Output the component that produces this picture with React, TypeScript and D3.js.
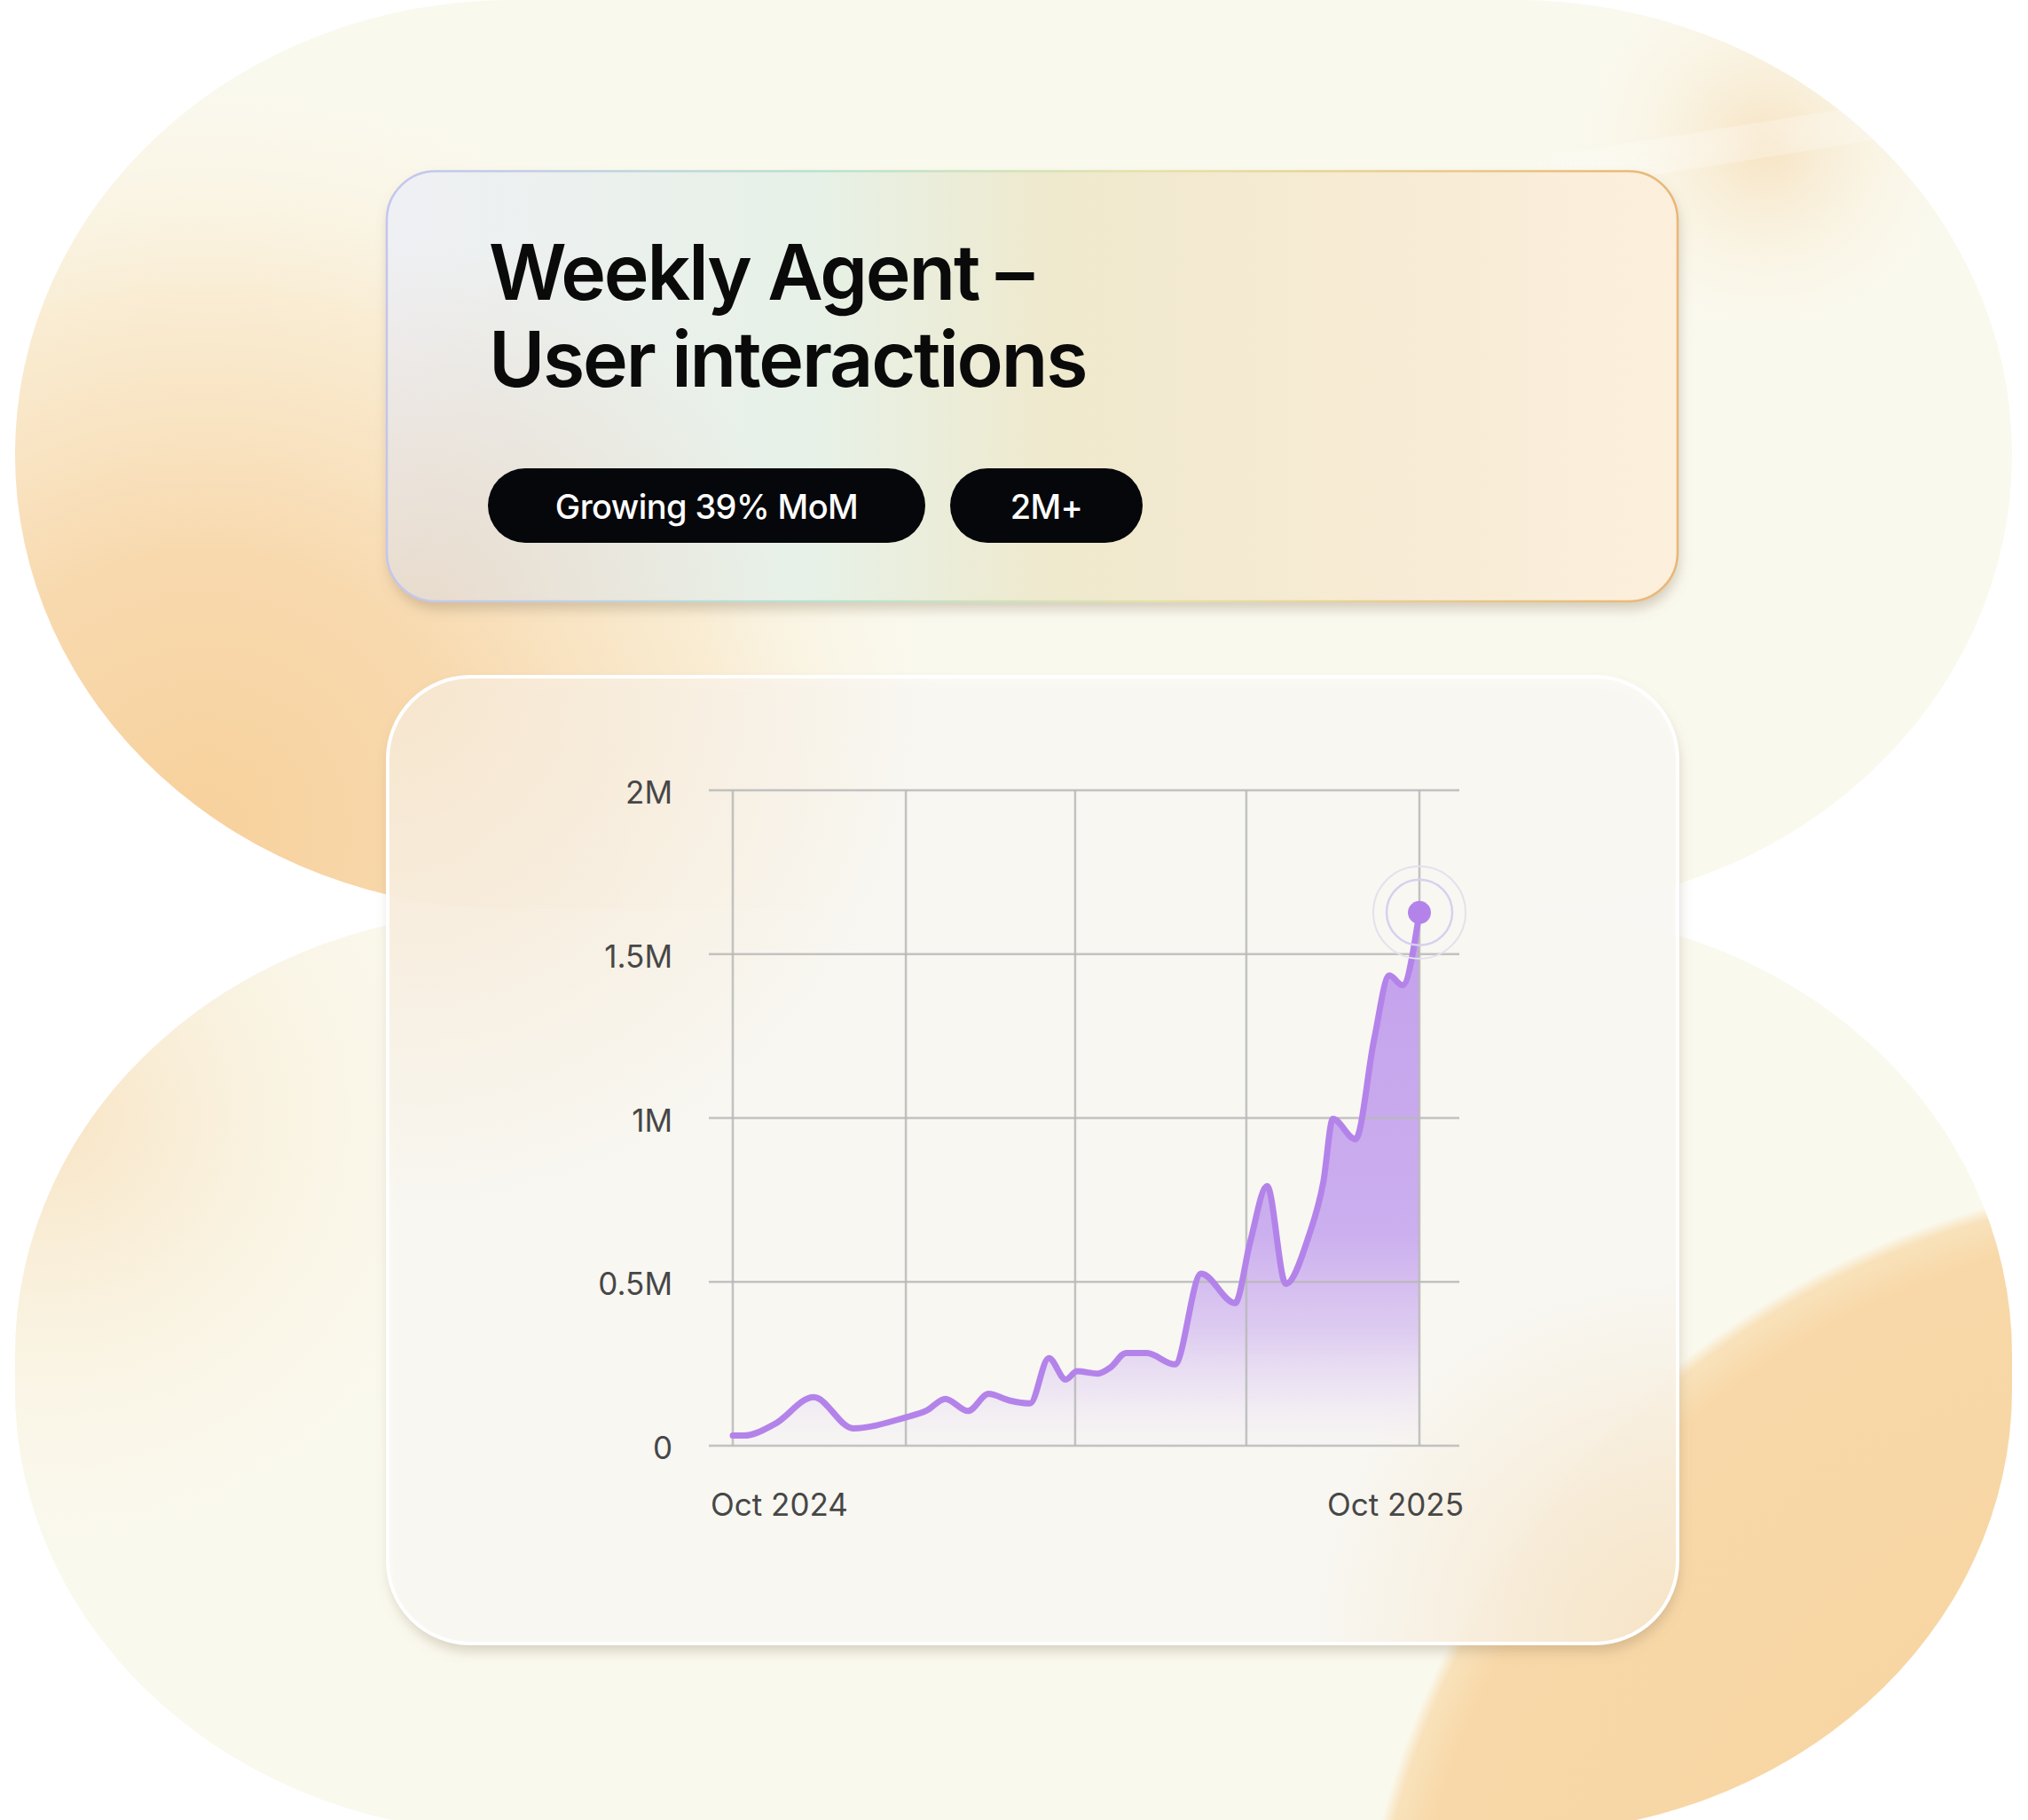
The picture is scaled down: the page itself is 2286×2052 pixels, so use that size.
import { useEffect, useRef } from 'react'
import * as d3 from 'd3'

// weekly agent interactions, values in millions
const dates = [
  '2024-10-01', '2024-10-07', '2024-10-23', '2024-11-13', '2024-12-04', '2024-12-31',
  '2025-01-12', '2025-01-22', '2025-02-03', '2025-02-14', '2025-02-25', '2025-03-08',
  '2025-03-18', '2025-03-27', '2025-04-02', '2025-04-13', '2025-04-20', '2025-04-28',
  '2025-05-09', '2025-05-24', '2025-06-07', '2025-06-25', '2025-07-03', '2025-07-12',
  '2025-07-22', '2025-08-03', '2025-08-11', '2025-08-16', '2025-08-28', '2025-09-07',
  '2025-09-15', '2025-09-22', '2025-10-01',
]
const values = [
  0.031, 0.031, 0.065, 0.148, 0.053, 0.085,
  0.107, 0.143, 0.106, 0.158, 0.138, 0.129,
  0.267, 0.202, 0.227, 0.22, 0.24, 0.283,
  0.283, 0.248, 0.525, 0.435, 0.621, 0.792,
  0.494, 0.637, 0.807, 0.997, 0.935, 1.242,
  1.435, 1.405, 1.627,
]
const yTicks = [0, 0.5, 1, 1.5, 2]
const yTickLabels = ['0', '0.5M', '1M', '1.5M', '2M']
const xGridDates = ['2024-10-01', '2025-01-01', '2025-04-01', '2025-07-01', '2025-10-01']
const xTickDates = ['2024-10-01', '2025-10-01']
const xTickLabels = ['Oct 2024', 'Oct 2025']
const titleLines = ['Weekly Agent –', 'User interactions']
const pills = ['Growing 39% MoM', '2M+']

const W = 2286
const H = 2052
const FONT = "Inter, 'Noto Sans', sans-serif"

export default function App() {
  const ref = useRef<SVGSVGElement>(null)

  useEffect(() => {
    if (!ref.current) return
    document.body.style.margin = '0'
    const svg = d3.select(ref.current)
    svg.selectAll('*').remove()
    svg.attr('width', W).attr('height', H)

    const defs = svg.append('defs')

    const radial = (id: string, cx: number, cy: number, r: number, stops: [number, string, number][]) => {
      const g = defs.append('radialGradient').attr('id', id)
        .attr('gradientUnits', 'userSpaceOnUse')
        .attr('cx', cx).attr('cy', cy).attr('r', r)
      stops.forEach(s => g.append('stop').attr('offset', s[0]).attr('stop-color', s[1]).attr('stop-opacity', s[2]))
    }
    const linear = (id: string, x1: number, y1: number, x2: number, y2: number, stops: [number, string, number][], user = false) => {
      const g = defs.append('linearGradient').attr('id', id)
        .attr('x1', x1).attr('y1', y1).attr('x2', x2).attr('y2', y2)
      if (user) g.attr('gradientUnits', 'userSpaceOnUse')
      stops.forEach(s => g.append('stop').attr('offset', s[0]).attr('stop-color', s[1]).attr('stop-opacity', s[2]))
    }

    radial('peachTop', 230, 930, 880, [[0, '#f7d19c', 1], [0.35, '#f8d9ae', 1], [0.68, '#f9ebd0', 0.9], [1, '#faf9ee', 0]])
    radial('peachLeft', 60, 1260, 560, [[0, '#f8e2c0', 0.9], [1, '#faf9ee', 0]])
    radial('orangeCircle', 2500, 2300, 975, [[0, '#f7d39e', 1], [0.94, '#f8d8a8', 1], [0.985, '#f8dcae', 0.8], [1, '#f8dcae', 0]])
    radial('glare', 1990, 165, 240, [[0, '#f6dcb4', 0.75], [1, '#faf9ee', 0]])

    // title card fills
    linear('titleFill', 0, 0, 1, 0, [[0, '#eff0f4', 1], [0.33, '#e7f1e7', 1], [0.52, '#efe9cd', 1], [0.78, '#f8ebd5', 1], [1, '#fcefdc', 1]])
    radial('titleShade', 470, 690, 420, [[0, '#e6d4bf', 0.75], [1, '#e6d4bf', 0]])
    linear('titleBorder', 0, 0, 1, 0, [[0, '#c4c5ef', 1], [0.35, '#b9e3cf', 1], [0.6, '#e5e2a8', 1], [1, '#e9b676', 1]])

    // chart card tints
    radial('cardTintTL', 437, 763, 620, [[0, '#f6e0c2', 0.75], [1, '#f6e0c2', 0]])
    radial('cardTintBR', 1891, 1853, 420, [[0, '#f6dcb4', 0.7], [1, '#f6dcb4', 0]])

    // area fill
    linear('areaFill', 0, 1030, 0, 1630, [
      [0, '#c3a0ec', 1], [0.6, '#c9abee', 0.95], [0.78, '#d6bff0', 0.8], [0.9, '#e7dbf3', 0.6], [1, '#f4eff5', 0.25],
    ], true)

    const shadow = defs.append('filter').attr('id', 'shadow')
      .attr('x', '-10%').attr('y', '-10%').attr('width', '120%').attr('height', '125%')
    shadow.append('feDropShadow').attr('dx', 2).attr('dy', 9).attr('stdDeviation', 7)
      .attr('flood-color', '#8a7458').attr('flood-opacity', 0.33)

    const blur = defs.append('filter').attr('id', 'blur')
    blur.append('feGaussianBlur').attr('stdDeviation', 30)

    // background blobs
    svg.append('rect').attr('width', W).attr('height', H).attr('fill', '#ffffff')

    const top = { x: 17, y: 0, w: 2251, h: 1025, rx: 560, ry: 512 }
    const bot = { x: 17, y: 1027, w: 2251, h: 1040, rx: 560, ry: 500 }

    defs.append('clipPath').attr('id', 'clipTop').append('rect')
      .attr('x', top.x).attr('y', top.y).attr('width', top.w).attr('height', top.h).attr('rx', top.rx).attr('ry', top.ry)
    defs.append('clipPath').attr('id', 'clipBot').append('rect')
      .attr('x', bot.x).attr('y', bot.y).attr('width', bot.w).attr('height', bot.h).attr('rx', bot.rx).attr('ry', bot.ry)

    const gTop = svg.append('g').attr('clip-path', 'url(#clipTop)')
    gTop.append('rect').attr('width', W).attr('height', H).attr('fill', '#faf9ee')
    gTop.append('rect').attr('width', W).attr('height', H).attr('fill', 'url(#peachTop)')
    gTop.append('rect').attr('width', W).attr('height', H).attr('fill', 'url(#glare)')
    gTop.append('ellipse').attr('cx', 1960).attr('cy', 162).attr('rx', 220).attr('ry', 16)
      .attr('transform', 'rotate(-9 1960 162)').attr('fill', '#ffffff').attr('opacity', 0.75).attr('filter', 'url(#blur)')

    const gBot = svg.append('g').attr('clip-path', 'url(#clipBot)')
    gBot.append('rect').attr('width', W).attr('height', H).attr('fill', '#faf9ee')
    gBot.append('rect').attr('width', W).attr('height', H).attr('fill', 'url(#peachLeft)')
    gBot.append('rect').attr('width', W).attr('height', H).attr('fill', 'url(#orangeCircle)')

    // title card
    const tc = { x: 436, y: 193, w: 1455, h: 485, r: 55 }
    svg.append('rect').attr('x', tc.x).attr('y', tc.y).attr('width', tc.w).attr('height', tc.h)
      .attr('rx', tc.r).attr('fill', 'url(#titleFill)').attr('filter', 'url(#shadow)')
    svg.append('rect').attr('x', tc.x).attr('y', tc.y).attr('width', tc.w).attr('height', tc.h)
      .attr('rx', tc.r).attr('fill', 'url(#titleShade)')
    svg.append('rect').attr('x', tc.x).attr('y', tc.y).attr('width', tc.w).attr('height', tc.h)
      .attr('rx', tc.r).attr('fill', 'none').attr('stroke', 'url(#titleBorder)').attr('stroke-width', 2.5)

    svg.append('g').selectAll('text').data(titleLines).join('text')
      .attr('x', 551).attr('y', (d, i) => 338 + i * 98)
      .attr('font-family', FONT).attr('font-size', 86).attr('font-weight', 600)
      .attr('letter-spacing', -2.2).attr('fill', '#0a0a0a')
      .text(d => d)

    const pillX = [550, 1071]
    const pillW = [493, 217]
    const pg = svg.append('g').selectAll('g').data(pills).join('g')
      .attr('transform', (d, i) => `translate(${pillX[i]},528)`)
    pg.append('rect').attr('width', (d, i) => pillW[i]).attr('height', 84).attr('rx', 42).attr('fill', '#05070a')
    pg.append('text').attr('x', (d, i) => pillW[i] / 2).attr('y', 43)
      .attr('text-anchor', 'middle').attr('dominant-baseline', 'central')
      .attr('font-family', FONT).attr('font-size', 38).attr('font-weight', 500)
      .attr('letter-spacing', -0.6).attr('fill', '#ffffff')
      .text(d => d)

    // chart card (frosted glass)
    const cc = { x: 437, y: 763, w: 1454, h: 1090, r: 93 }
    svg.append('rect').attr('x', cc.x).attr('y', cc.y).attr('width', cc.w).attr('height', cc.h)
      .attr('rx', cc.r).attr('fill', 'rgba(251,250,245,0.9)').attr('filter', 'url(#shadow)')
    svg.append('rect').attr('x', cc.x).attr('y', cc.y).attr('width', cc.w).attr('height', cc.h)
      .attr('rx', cc.r).attr('fill', 'url(#cardTintTL)')
    svg.append('rect').attr('x', cc.x).attr('y', cc.y).attr('width', cc.w).attr('height', cc.h)
      .attr('rx', cc.r).attr('fill', 'url(#cardTintBR)')
    svg.append('rect').attr('x', cc.x).attr('y', cc.y).attr('width', cc.w).attr('height', cc.h)
      .attr('rx', cc.r).attr('fill', 'none').attr('stroke', '#ffffff').attr('stroke-width', 4)

    // chart
    const parse = d3.timeParse('%Y-%m-%d')
    const data = dates.map((d, i) => ({ date: parse(d) as Date, value: values[i] }))

    const x = d3.scaleTime()
      .domain([parse(xGridDates[0]) as Date, parse(xGridDates[xGridDates.length - 1]) as Date])
      .range([826, 1600])
    const y = d3.scaleLinear().domain([0, 2]).range([1630, 891])

    const area = d3.area<{ date: Date; value: number }>()
      .x(d => x(d.date)).y0(y(0)).y1(d => y(d.value))
      .curve(d3.curveMonotoneX)
    const line = d3.line<{ date: Date; value: number }>()
      .x(d => x(d.date)).y(d => y(d.value))
      .curve(d3.curveMonotoneX)

    const chart = svg.append('g')

    chart.append('path').datum(data).attr('d', area).attr('fill', 'url(#areaFill)')

    // grid
    chart.append('g').selectAll('line').data(yTicks).join('line')
      .attr('x1', 799).attr('x2', 1645)
      .attr('y1', d => y(d)).attr('y2', d => y(d))
      .attr('stroke', '#b9b9b9').attr('stroke-opacity', 0.85).attr('stroke-width', 2.5)
    chart.append('g').selectAll('line').data(xGridDates).join('line')
      .attr('x1', d => x(parse(d) as Date)).attr('x2', d => x(parse(d) as Date))
      .attr('y1', y(2)).attr('y2', y(0))
      .attr('stroke', '#b9b9b9').attr('stroke-opacity', 0.85).attr('stroke-width', 2.5)

    chart.append('path').datum(data).attr('d', line)
      .attr('fill', 'none').attr('stroke', '#b383ea').attr('stroke-width', 7)
      .attr('stroke-linejoin', 'round').attr('stroke-linecap', 'round')

    // y labels
    chart.append('g').selectAll('text').data(yTicks).join('text')
      .attr('x', 758).attr('y', d => y(d) + 2)
      .attr('text-anchor', 'end').attr('dominant-baseline', 'central')
      .attr('font-family', FONT).attr('font-size', 35).attr('fill', '#474747')
      .text((d, i) => yTickLabels[i])

    // x labels
    chart.append('g').selectAll('text').data(xTickDates).join('text')
      .attr('x', (d, i) => (i === 0 ? 801 : 1650)).attr('y', 1709)
      .attr('text-anchor', (d, i) => (i === 0 ? 'start' : 'end'))
      .attr('font-family', FONT).attr('font-size', 35).attr('fill', '#474747')
      .text((d, i) => xTickLabels[i])

    // end marker
    const last = data[data.length - 1]
    const ex = x(last.date)
    const ey = y(last.value)
    chart.append('circle').attr('cx', ex).attr('cy', ey).attr('r', 52)
      .attr('fill', 'none').attr('stroke', '#e4e1ec').attr('stroke-width', 2)
    chart.append('circle').attr('cx', ex).attr('cy', ey).attr('r', 37)
      .attr('fill', 'none').attr('stroke', '#d8d0ee').attr('stroke-width', 2.5)
    chart.append('circle').attr('cx', ex).attr('cy', ey).attr('r', 13).attr('fill', '#b383ea')
  }, [])

  return <svg ref={ref} style={{ display: 'block' }} />
}
